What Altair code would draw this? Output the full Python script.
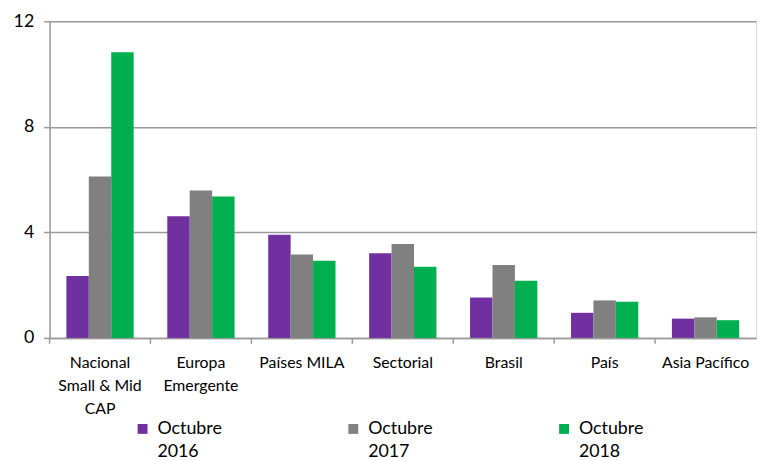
import altair as alt
import pandas as pd

categories = ["Nacional|Small & Mid|CAP", "Europa|Emergente", "Países MILA", "Sectorial", "Brasil", "País", "Asia Pacífico"]
series = ["Octubre 2016", "Octubre 2017", "Octubre 2018"]
v2016 = [2.35, 4.61, 3.91, 3.21, 1.53, 0.95, 0.73]
v2017 = [6.12, 5.59, 3.16, 3.56, 2.76, 1.42, 0.78]
v2018 = [10.83, 5.36, 2.92, 2.70, 2.17, 1.37, 0.67]
colors = ["#7030A0", "#808080", "#00B050"]
y_ticks = [0, 4, 8, 12]

rows = []
for s, vals in zip(series, [v2016, v2017, v2018]):
    for c, v in zip(categories, vals):
        rows.append({"cat": c, "serie": s, "valor": v})
df = pd.DataFrame(rows)
cat_df = pd.DataFrame({"cat": categories})

FONT = "Lato"
W, H = 714, 320

xscale = alt.Scale(domain=categories, paddingInner=0, paddingOuter=0)
xaxis = alt.Axis(title=None, labelAngle=0, ticks=False, domainColor="#9a9a9a", domainWidth=1.5,
                 labelExpr="split(datum.label, '|')", labelFont=FONT, labelFontSize=16,
                 labelColor="#000000", labelPadding=17, labelLineHeight=23, labelBaseline="top")

bars = alt.Chart(df).mark_bar().encode(
    x=alt.X("cat:N", scale=xscale, axis=xaxis, sort=categories),
    xOffset=alt.XOffset("serie:N", scale=alt.Scale(domain=series, paddingOuter=0.75, paddingInner=0)),
    y=alt.Y("valor:Q", scale=alt.Scale(domain=[0, 12], nice=False),
            axis=alt.Axis(title=None, values=y_ticks, grid=True, gridColor="#9a9a9a", gridWidth=1.5,
                          domainColor="#9a9a9a", domainWidth=1.5, tickColor="#9a9a9a", tickWidth=1.5,
                          tickSize=6, labelFont=FONT, labelFontSize=18, labelColor="#000000",
                          labelPadding=10)),
    color=alt.Color("serie:N", scale=alt.Scale(domain=series, range=colors),
                    legend=alt.Legend(title=None, orient="none", legendX=85, legendY=403,
                                      direction="horizontal", columns=3, columnPadding=123,
                                      symbolType="square", symbolSize=100, symbolStrokeWidth=0,
                                      labelExpr="split(datum.label, ' ')", labelFont=FONT,
                                      labelFontSize=18, labelColor="#000000", labelOffset=6,
                                      labelLimit=200)),
)

ticks = alt.Chart(cat_df).mark_rule(color="#9a9a9a", strokeWidth=1.5).encode(
    x=alt.X("cat:N", scale=xscale, axis=xaxis, sort=categories, bandPosition=0),
    y=alt.value(H),
    y2=alt.value(H + 6),
)

chart = alt.layer(bars, ticks).properties(
    width=W, height=H,
    autosize=alt.AutoSizeParams(type="none"),
    padding={"left": 42, "top": 11, "right": 1, "bottom": 122},
).configure_view(stroke=None).configure(style={"guide-label": {"lineHeight": 23}})

chart.save("out.html", embed_options={"renderer": "svg", "actions": False})
